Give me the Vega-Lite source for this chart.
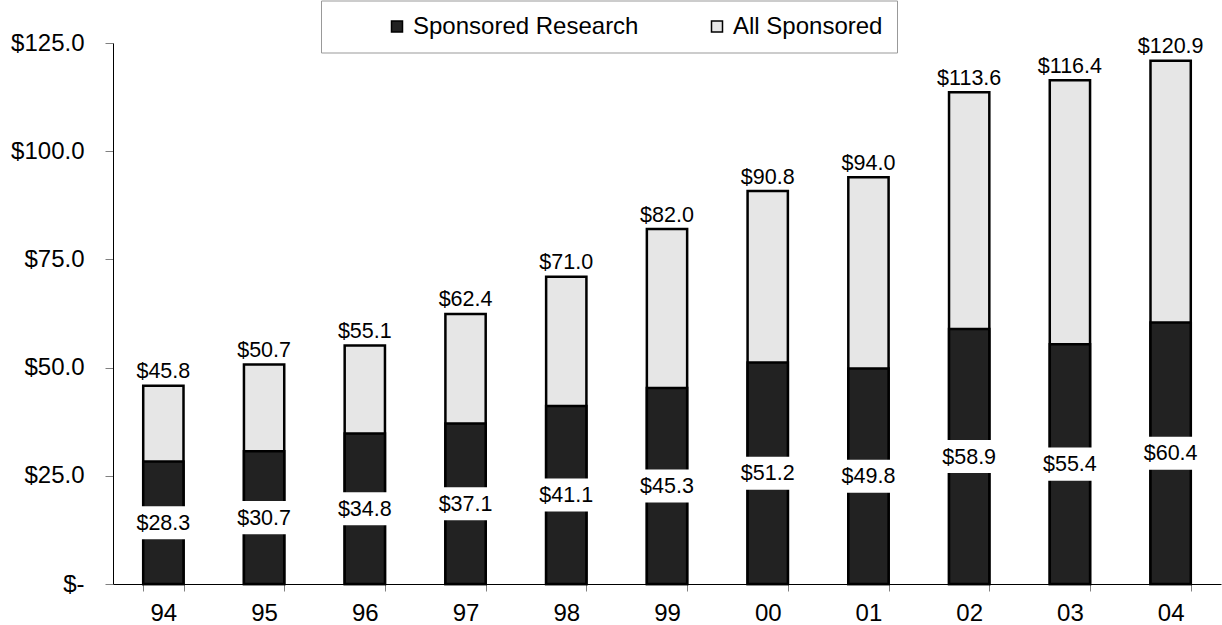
{
  "$schema": "https://vega.github.io/schema/vega-lite/v6.json",
  "width": 1108,
  "height": 541,
  "autosize": {"type": "none"},
  "padding": {"left": 113, "top": 43, "right": 1, "bottom": 41},
  "background": "white",
  "config": {
    "font": "Liberation Sans",
    "view": {"stroke": null},
    "text": {"font": "Liberation Sans"}
  },
  "data": {
    "values": [
      {"year": "94", "series": "All Sponsored", "value": 45.8},
      {"year": "94", "series": "Sponsored Research", "value": 28.3},
      {"year": "95", "series": "All Sponsored", "value": 50.7},
      {"year": "95", "series": "Sponsored Research", "value": 30.7},
      {"year": "96", "series": "All Sponsored", "value": 55.1},
      {"year": "96", "series": "Sponsored Research", "value": 34.8},
      {"year": "97", "series": "All Sponsored", "value": 62.4},
      {"year": "97", "series": "Sponsored Research", "value": 37.1},
      {"year": "98", "series": "All Sponsored", "value": 71.0},
      {"year": "98", "series": "Sponsored Research", "value": 41.1},
      {"year": "99", "series": "All Sponsored", "value": 82.0},
      {"year": "99", "series": "Sponsored Research", "value": 45.3},
      {"year": "00", "series": "All Sponsored", "value": 90.8},
      {"year": "00", "series": "Sponsored Research", "value": 51.2},
      {"year": "01", "series": "All Sponsored", "value": 94.0},
      {"year": "01", "series": "Sponsored Research", "value": 49.8},
      {"year": "02", "series": "All Sponsored", "value": 113.6},
      {"year": "02", "series": "Sponsored Research", "value": 58.9},
      {"year": "03", "series": "All Sponsored", "value": 116.4},
      {"year": "03", "series": "Sponsored Research", "value": 55.4},
      {"year": "04", "series": "All Sponsored", "value": 120.9},
      {"year": "04", "series": "Sponsored Research", "value": 60.4}
    ]
  },
  "encoding": {
    "x": {
      "field": "year",
      "type": "ordinal",
      "sort": null,
      "scale": {"paddingInner": 0.6, "paddingOuter": 0.3},
      "axis": {
        "title": null,
        "labelAngle": 0,
        "tickBand": "extent",
        "tickSize": 7,
        "tickColor": "#808080",
        "domainColor": "#000000",
        "labelPadding": 10,
        "labelFontSize": 24,
        "labelColor": "#000000",
        "labelFont": "Liberation Sans"
      }
    }
  },
  "layer": [
    {
      "encoding": {
        "y": {
          "field": "value",
          "type": "quantitative",
          "scale": {"domain": [0, 125], "nice": false, "zero": true},
          "axis": {
            "title": null,
            "grid": false,
            "values": [0, 25, 50, 75, 100, 125],
            "labelExpr": "datum.value == 0 ? '$-\u00a0\u00a0' : '$' + format(datum.value, '.1f')",
            "labelFontSize": 24,
            "labelColor": "#000000",
            "labelFont": "Liberation Sans",
            "labelPadding": 21,
            "tickSize": 8,
            "tickColor": "#808080",
            "domainColor": "#000000"
          }
        }
      },
      "layer": [
        {
          "transform": [{"filter": "datum.series == 'All Sponsored'"}],
          "mark": {"type": "bar", "stroke": "#000000", "strokeWidth": 2.5},
          "encoding": {
            "color": {
              "field": "series",
              "type": "nominal",
              "scale": {"domain": ["Sponsored Research", "All Sponsored"], "range": ["#222222", "#e6e6e6"]},
              "legend": {
                "title": "\u00a0",
                "titleOrient": "left",
                "titlePadding": 50,
                "titleFontSize": 23,
                "orient": "none",
                "direction": "horizontal",
                "legendX": 208,
                "legendY": -42.5,
                "padding": 14,
                "strokeColor": "#999999",
                "fillColor": "#ffffff",
                "labelFontSize": 24,
                "labelLimit": 500,
                "labelColor": "#000000",
                "labelFont": "Liberation Sans",
                "symbolType": "square",
                "symbolSize": 121,
                "symbolStrokeColor": "#000000",
                "symbolStrokeWidth": 1.5,
                "symbolOpacity": 1,
                "labelOffset": 4,
                "columnPadding": 66
              }
            }
          }
        },
        {
          "transform": [{"filter": "datum.series == 'Sponsored Research'"}],
          "mark": {"type": "bar", "stroke": "#000000", "strokeWidth": 2.5},
          "encoding": {
            "color": {"field": "series", "type": "nominal"}
          }
        },
        {
          "transform": [{"filter": "datum.series == 'All Sponsored'"}],
          "mark": {"type": "text", "baseline": "alphabetic", "align": "center", "dy": -7.5, "fontSize": 21.5, "color": "#000000"},
          "encoding": {
            "text": {"field": "value", "type": "quantitative", "format": "$.1f"}
          }
        }
      ]
    },
    {
      "transform": [{"filter": "datum.series == 'Sponsored Research'"}],
      "encoding": {
        "y": {
          "field": "value",
          "type": "quantitative",
          "scale": {"domain": [0, 250], "nice": false, "zero": true},
          "axis": null
        }
      },
      "layer": [
        {
          "mark": {"type": "point", "filled": true, "color": "#ffffff", "opacity": 1, "strokeWidth": 0, "shape": "M-1,-0.69L1,-0.69L1,0.69L-1,0.69Z", "size": 2304}
        },
        {
          "mark": {"type": "text", "baseline": "middle", "align": "center", "dy": 1, "fontSize": 21.5, "color": "#000000"},
          "encoding": {
            "text": {"field": "value", "type": "quantitative", "format": "$.1f"}
          }
        }
      ]
    }
  ],
  "resolve": {"scale": {"y": "independent"}}
}
